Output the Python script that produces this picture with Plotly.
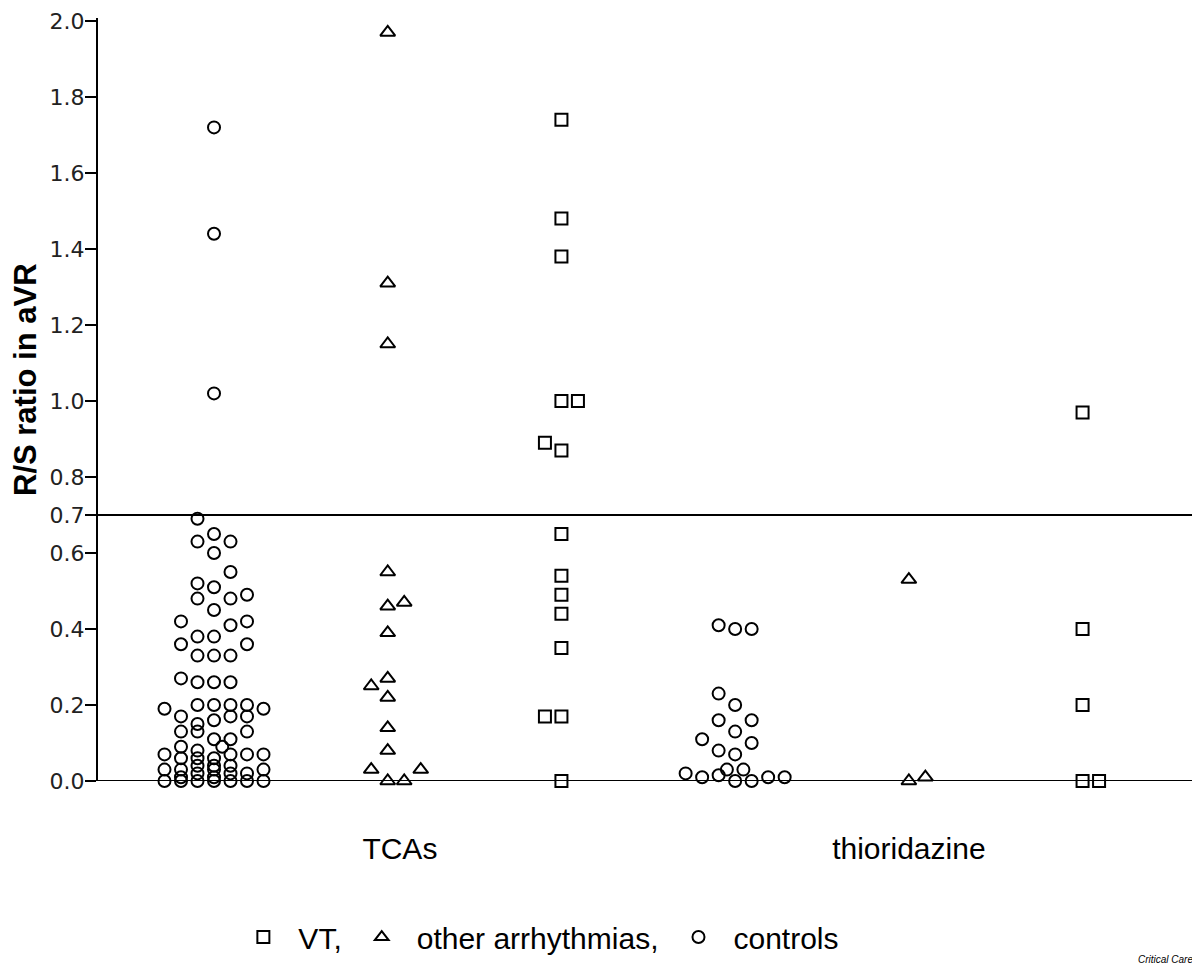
import plotly.graph_objects as go

# ---------------- data ----------------
drugs = ["TCAs", "thioridazine"]
series_names = ["VT,", "other arrhythmias,", "controls"]
y_title = "R/S ratio in aVR"
credit = "Critical Care"

# VT (squares)
vt_tca_values = [1.74, 1.48, 1.38, 1.00, 1.00, 0.89, 0.87, 0.65, 0.54, 0.49, 0.44, 0.35, 0.17, 0.17, 0.00]
vt_tca_slots = [0, 0, 0, 0, 1, -1, 0, 0, 0, 0, 0, 0, -1, 0, 0]
vt_thio_values = [0.97, 0.40, 0.20, 0.00, 0.00]
vt_thio_slots = [0, 0, 0, 0, 1]

# other arrhythmias (triangles)
oa_tca_values = [1.97, 1.31, 1.15, 0.55, 0.46, 0.47, 0.39, 0.27, 0.25, 0.22, 0.14, 0.08, 0.03, 0.03, 0.00, 0.00]
oa_tca_slots = [0, 0, 0, 0, 0, 1, 0, 0, -1, 0, 0, 0, -1, 2, 0, 1]
oa_thio_values = [0.53, 0.00, 0.01]
oa_thio_slots = [0, 0, 1]

# controls (circles)
ct_tca_values = (
    [1.72, 1.44, 1.02, 0.65, 0.60, 0.51, 0.45, 0.38, 0.33, 0.26, 0.20, 0.16, 0.11, 0.06, 0.04, 0.03, 0.01, 0.00]
    + [0.69, 0.63, 0.52, 0.48, 0.38, 0.33, 0.26, 0.20, 0.15, 0.13, 0.08, 0.06, 0.04, 0.02, 0.00]
    + [0.63, 0.55, 0.48, 0.41, 0.33, 0.26, 0.20, 0.17, 0.11, 0.07, 0.04, 0.02, 0.00]
    + [0.42, 0.36, 0.27, 0.17, 0.13, 0.09, 0.06, 0.03, 0.01, 0.00]
    + [0.49, 0.42, 0.36, 0.20, 0.17, 0.13, 0.07, 0.02, 0.00]
    + [0.19, 0.07, 0.03, 0.00]
    + [0.19, 0.07, 0.03, 0.00]
    + [0.09]
)
ct_tca_slots = (
    [0] * 18 + [-1] * 15 + [1] * 13 + [-2] * 10 + [2] * 9 + [-3] * 4 + [3] * 4 + [0.5]
)
ct_thio_values = [0.41, 0.23, 0.16, 0.08, 0.015,
                  0.40, 0.20, 0.13, 0.07, 0.00,
                  0.40, 0.16, 0.10, 0.00,
                  0.11, 0.01, 0.03, 0.03, 0.02, 0.01, 0.01]
ct_thio_slots = [-1, -1, -1, -1, -1,
                 0, 0, 0, 0, 0,
                 1, 1, 1, 1,
                 -2, -2, -0.5, 0.5, -3, 2, 3]

y_tickvals = [0.0, 0.2, 0.4, 0.6, 0.7, 0.8, 1.0, 1.2, 1.4, 1.6, 1.8, 2.0]
y_ticktext = ["0.0", "0.2", "0.4", "0.6", "0.7", "0.8", "1.0", "1.2", "1.4", "1.6", "1.8", "2.0"]
cutoff = 0.7

# ---------------- layout helpers ----------------
SLOT_W = 0.095          # jitter step in category units
drug_label_pos = [2.07, 5.0]
outcome_offset = {"controls": 1, "other arrhythmias,": 2, "VT,": 3}


def xs(drug_idx, name, slots):
    base = drug_idx * 3 + outcome_offset[name]
    return [base + s * SLOT_W for s in slots]


series = [
    ("VT,", "square-open", 12, vt_tca_values, vt_tca_slots, vt_thio_values, vt_thio_slots),
    ("other arrhythmias,", "triangle-up-open", 13, oa_tca_values, oa_tca_slots, oa_thio_values, oa_thio_slots),
    ("controls", "circle-open", 12, ct_tca_values, ct_tca_slots, ct_thio_values, ct_thio_slots),
]

fig = go.Figure()
for name, sym, size, tv, ts, hv, hs in series:
    fig.add_trace(go.Scatter(
        x=xs(0, name, ts) + xs(1, name, hs),
        y=tv + hv,
        mode="markers",
        name=name,
        cliponaxis=False,
        marker=dict(symbol=sym, size=size, color="black", line=dict(color="black", width=2)),
    ))

# horizontal lines at 0 and cutoff
for yv in (0.0, cutoff):
    fig.add_shape(type="line", xref="paper", x0=0, x1=1, yref="y", y0=yv, y1=yv,
                  line=dict(color="black", width=2), layer="above")

fig.add_annotation(text=y_title, xref="paper", yref="paper",
                   x=-0.0653, y=0.5256, xanchor="center", yanchor="middle", textangle=-90,
                   showarrow=False,
                   font=dict(family="Liberation Sans, Arial", size=31, color="black", weight="bold"))

fig.add_annotation(text=credit, xref="paper", yref="paper",
                   x=0.9955, y=-0.2333, xanchor="right", yanchor="middle", showarrow=False,
                   font=dict(family="Liberation Sans, Arial", size=10, color="black", style="italic"))

fig.update_layout(
    width=1200, height=968,
    margin=dict(l=90, r=8, t=10, b=195),
    paper_bgcolor="white", plot_bgcolor="white",
    showlegend=True,
    legend=dict(orientation="h", x=0.1183, xanchor="left", y=-0.2045, yanchor="middle",
                font=dict(family="Liberation Sans, Arial", size=30, color="black"),
                itemsizing="constant", itemwidth=60, bgcolor="rgba(0,0,0,0)"),
    xaxis=dict(range=[0.3322, 6.676], showgrid=False, zeroline=False, showline=False,
               automargin=False,
               tickvals=drug_label_pos, ticktext=drugs, ticks="",
               tickfont=dict(family="Liberation Sans, Arial", size=30, color="black"),
               ticklabelstandoff=47),
    yaxis=dict(range=[0, 2.0079], showgrid=False, zeroline=False, showline=True,
               automargin=False, ticklabeloverflow="allow", ticklabelstandoff=-4,
               linecolor="black", linewidth=2, ticks="outside", ticklen=11, tickwidth=2,
               tickcolor="black", tickvals=y_tickvals, ticktext=y_ticktext,
               tickfont=dict(family="DejaVu Sans", size=22, color="#222")),
)

fig.write_html("out.html")
